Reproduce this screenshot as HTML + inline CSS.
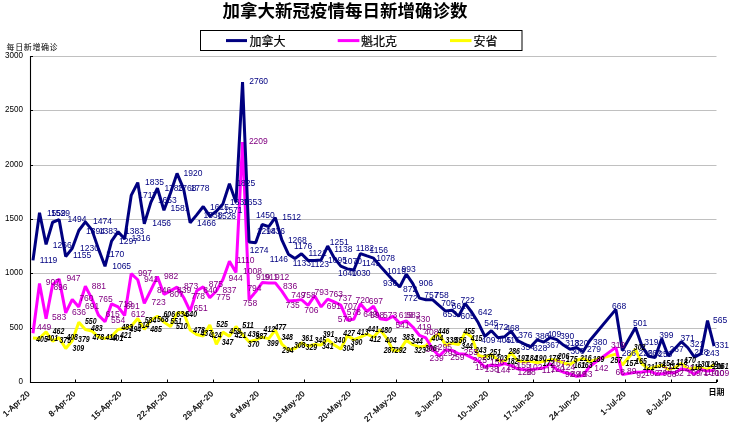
<!DOCTYPE html><html><head><meta charset="utf-8"><style>html,body{margin:0;padding:0;background:#fff;width:729px;height:424px;overflow:hidden}svg{display:block}</style></head><body>
<svg width="729" height="424" viewBox="0 0 729 424">
<rect width="729" height="424" fill="#fff"/>
<text x="345" y="16.5" font-family="'Noto Sans CJK SC',sans-serif" font-weight="bold" font-size="17.5" text-anchor="middle" fill="#000">加拿大新冠疫情每日新增确诊数</text>
<rect x="200.5" y="30.5" width="321.5" height="20" fill="#fff" stroke="#000" stroke-width="1"/>
<line x1="226" y1="40.6" x2="247" y2="40.6" stroke="#000080" stroke-width="3"/>
<text x="249.5" y="46" font-family="'Liberation Sans','Noto Sans CJK SC',sans-serif" font-size="12" fill="#000" stroke="#000" stroke-width="0.2">加拿大</text>
<line x1="337.7" y1="40.6" x2="359.4" y2="40.6" stroke="#ff00ff" stroke-width="3"/>
<text x="361" y="46" font-family="'Liberation Sans','Noto Sans CJK SC',sans-serif" font-size="12" fill="#000" stroke="#000" stroke-width="0.2">魁北克</text>
<line x1="450" y1="40.6" x2="471.5" y2="40.6" stroke="#ffff00" stroke-width="3"/>
<text x="473.5" y="46" font-family="'Liberation Sans','Noto Sans CJK SC',sans-serif" font-size="12" fill="#000" stroke="#000" stroke-width="0.2">安省</text>
<text x="6.6" y="49.6" font-family="'Liberation Sans','Noto Sans CJK SC',sans-serif" font-size="8" letter-spacing="0.6" fill="#000">每日新增确诊</text>
<line x1="31" y1="56.5" x2="716.5" y2="56.5" stroke="#c0c0c0" stroke-width="1"/>
<line x1="31" y1="110.5" x2="716.5" y2="110.5" stroke="#c0c0c0" stroke-width="1"/>
<line x1="31" y1="165.5" x2="716.5" y2="165.5" stroke="#c0c0c0" stroke-width="1"/>
<line x1="31" y1="219.5" x2="716.5" y2="219.5" stroke="#c0c0c0" stroke-width="1"/>
<line x1="31" y1="273.5" x2="716.5" y2="273.5" stroke="#c0c0c0" stroke-width="1"/>
<line x1="31" y1="328.5" x2="716.5" y2="328.5" stroke="#c0c0c0" stroke-width="1"/>
<text x="4.9" y="57.8" font-family="'Liberation Sans',sans-serif" font-size="9" textLength="18.0" lengthAdjust="spacingAndGlyphs" fill="#000">3000</text>
<text x="4.9" y="112.1" font-family="'Liberation Sans',sans-serif" font-size="9" textLength="18.0" lengthAdjust="spacingAndGlyphs" fill="#000">2500</text>
<text x="4.9" y="166.5" font-family="'Liberation Sans',sans-serif" font-size="9" textLength="18.0" lengthAdjust="spacingAndGlyphs" fill="#000">2000</text>
<text x="4.9" y="220.8" font-family="'Liberation Sans',sans-serif" font-size="9" textLength="18.0" lengthAdjust="spacingAndGlyphs" fill="#000">1500</text>
<text x="4.9" y="275.1" font-family="'Liberation Sans',sans-serif" font-size="9" textLength="18.0" lengthAdjust="spacingAndGlyphs" fill="#000">1000</text>
<text x="9.4" y="329.5" font-family="'Liberation Sans',sans-serif" font-size="9" textLength="13.5" lengthAdjust="spacingAndGlyphs" fill="#000">500</text>
<text x="18.4" y="383.8" font-family="'Liberation Sans',sans-serif" font-size="9" textLength="4.5" lengthAdjust="spacingAndGlyphs" fill="#000">0</text>
<line x1="30.5" y1="56" x2="30.5" y2="383" stroke="#000" stroke-width="1.1"/>
<line x1="30" y1="382.5" x2="717" y2="382.5" stroke="#000" stroke-width="1.1"/>
<line x1="30" y1="56.5" x2="33" y2="56.5" stroke="#000" stroke-width="1"/>
<line x1="30" y1="110.5" x2="33" y2="110.5" stroke="#000" stroke-width="1"/>
<line x1="30" y1="165.5" x2="33" y2="165.5" stroke="#000" stroke-width="1"/>
<line x1="30" y1="219.5" x2="33" y2="219.5" stroke="#000" stroke-width="1"/>
<line x1="30" y1="273.5" x2="33" y2="273.5" stroke="#000" stroke-width="1"/>
<line x1="30" y1="328.5" x2="33" y2="328.5" stroke="#000" stroke-width="1"/>
<text transform="translate(30.5,394.2) rotate(-43)" font-family="'Liberation Sans',sans-serif" font-size="8" letter-spacing="0.3" text-anchor="end" fill="#000" stroke="#000" stroke-width="0.25">1-Apr-20</text>
<line x1="75.5" y1="379.5" x2="75.5" y2="382" stroke="#000" stroke-width="1"/>
<text transform="translate(76.3,394.2) rotate(-43)" font-family="'Liberation Sans',sans-serif" font-size="8" letter-spacing="0.3" text-anchor="end" fill="#000" stroke="#000" stroke-width="0.25">8-Apr-20</text>
<line x1="121.5" y1="379.5" x2="121.5" y2="382" stroke="#000" stroke-width="1"/>
<text transform="translate(122.2,394.2) rotate(-43)" font-family="'Liberation Sans',sans-serif" font-size="8" letter-spacing="0.3" text-anchor="end" fill="#000" stroke="#000" stroke-width="0.25">15-Apr-20</text>
<line x1="167.5" y1="379.5" x2="167.5" y2="382" stroke="#000" stroke-width="1"/>
<text transform="translate(168.0,394.2) rotate(-43)" font-family="'Liberation Sans',sans-serif" font-size="8" letter-spacing="0.3" text-anchor="end" fill="#000" stroke="#000" stroke-width="0.25">22-Apr-20</text>
<line x1="213.5" y1="379.5" x2="213.5" y2="382" stroke="#000" stroke-width="1"/>
<text transform="translate(213.9,394.2) rotate(-43)" font-family="'Liberation Sans',sans-serif" font-size="8" letter-spacing="0.3" text-anchor="end" fill="#000" stroke="#000" stroke-width="0.25">29-Apr-20</text>
<line x1="258.5" y1="379.5" x2="258.5" y2="382" stroke="#000" stroke-width="1"/>
<text transform="translate(259.7,394.2) rotate(-43)" font-family="'Liberation Sans',sans-serif" font-size="8" letter-spacing="0.3" text-anchor="end" fill="#000" stroke="#000" stroke-width="0.25">6-May-20</text>
<line x1="304.5" y1="379.5" x2="304.5" y2="382" stroke="#000" stroke-width="1"/>
<text transform="translate(305.6,394.2) rotate(-43)" font-family="'Liberation Sans',sans-serif" font-size="8" letter-spacing="0.3" text-anchor="end" fill="#000" stroke="#000" stroke-width="0.25">13-May-20</text>
<line x1="350.5" y1="379.5" x2="350.5" y2="382" stroke="#000" stroke-width="1"/>
<text transform="translate(351.4,394.2) rotate(-43)" font-family="'Liberation Sans',sans-serif" font-size="8" letter-spacing="0.3" text-anchor="end" fill="#000" stroke="#000" stroke-width="0.25">20-May-20</text>
<line x1="396.5" y1="379.5" x2="396.5" y2="382" stroke="#000" stroke-width="1"/>
<text transform="translate(397.2,394.2) rotate(-43)" font-family="'Liberation Sans',sans-serif" font-size="8" letter-spacing="0.3" text-anchor="end" fill="#000" stroke="#000" stroke-width="0.25">27-May-20</text>
<line x1="442.5" y1="379.5" x2="442.5" y2="382" stroke="#000" stroke-width="1"/>
<text transform="translate(443.1,394.2) rotate(-43)" font-family="'Liberation Sans',sans-serif" font-size="8" letter-spacing="0.3" text-anchor="end" fill="#000" stroke="#000" stroke-width="0.25">3-Jun-20</text>
<line x1="488.5" y1="379.5" x2="488.5" y2="382" stroke="#000" stroke-width="1"/>
<text transform="translate(488.9,394.2) rotate(-43)" font-family="'Liberation Sans',sans-serif" font-size="8" letter-spacing="0.3" text-anchor="end" fill="#000" stroke="#000" stroke-width="0.25">10-Jun-20</text>
<line x1="533.5" y1="379.5" x2="533.5" y2="382" stroke="#000" stroke-width="1"/>
<text transform="translate(534.8,394.2) rotate(-43)" font-family="'Liberation Sans',sans-serif" font-size="8" letter-spacing="0.3" text-anchor="end" fill="#000" stroke="#000" stroke-width="0.25">17-Jun-20</text>
<line x1="579.5" y1="379.5" x2="579.5" y2="382" stroke="#000" stroke-width="1"/>
<text transform="translate(580.6,394.2) rotate(-43)" font-family="'Liberation Sans',sans-serif" font-size="8" letter-spacing="0.3" text-anchor="end" fill="#000" stroke="#000" stroke-width="0.25">24-Jun-20</text>
<line x1="625.5" y1="379.5" x2="625.5" y2="382" stroke="#000" stroke-width="1"/>
<text transform="translate(626.5,394.2) rotate(-43)" font-family="'Liberation Sans',sans-serif" font-size="8" letter-spacing="0.3" text-anchor="end" fill="#000" stroke="#000" stroke-width="0.25">1-Jul-20</text>
<line x1="671.5" y1="379.5" x2="671.5" y2="382" stroke="#000" stroke-width="1"/>
<text transform="translate(672.3,394.2) rotate(-43)" font-family="'Liberation Sans',sans-serif" font-size="8" letter-spacing="0.3" text-anchor="end" fill="#000" stroke="#000" stroke-width="0.25">8-Jul-20</text>
<line x1="717.5" y1="379.5" x2="717.5" y2="382" stroke="#000" stroke-width="1"/>
<line x1="716.5" y1="379.5" x2="716.5" y2="382" stroke="#000" stroke-width="1"/>
<text x="708.5" y="394.5" font-family="'Liberation Sans','Noto Sans CJK SC',sans-serif" font-size="8" font-weight="bold" fill="#000">日期</text>
<polyline points="32.97,337.99 39.52,338.42 46.07,331.80 52.62,341.25 59.17,337.66 65.72,348.42 72.27,340.82 78.82,322.23 85.37,329.51 91.92,330.93 98.46,337.01 105.01,338.42 111.56,336.25 118.11,329.51 124.66,328.32 131.21,326.15 137.76,318.54 144.31,329.30 150.86,320.28 157.41,316.15 163.95,322.12 170.50,326.58 177.05,313.11 183.60,312.45 190.15,330.06 196.70,334.51 203.25,335.93 209.80,324.95 216.35,344.29 222.90,332.12 229.44,336.25 235.99,326.47 242.54,334.62 249.09,341.79 255.64,339.95 262.19,337.23 268.74,338.64 275.29,330.17 281.84,344.18 288.39,350.05 294.93,348.53 301.48,342.77 308.03,346.25 314.58,344.51 321.13,344.94 327.68,339.51 334.23,345.05 340.78,348.97 347.33,335.60 353.88,339.62 360.42,337.12 366.97,334.08 373.52,337.23 380.07,329.84 386.62,338.10 393.17,350.81 399.72,350.27 406.27,340.38 412.82,344.62 419.37,346.90 425.91,345.92 432.46,338.10 439.01,333.53 445.56,345.27 452.11,343.31 458.66,344.62 465.21,332.56 471.76,336.90 478.31,355.59 484.86,357.01 491.40,354.72 497.95,359.94 504.50,362.22 511.05,352.66 517.60,360.59 524.15,362.01 530.70,361.35 537.25,362.66 543.80,361.35 550.35,359.61 556.89,360.27 563.44,362.98 569.99,364.50 576.54,360.27 583.09,358.53 589.64,361.46 615.84,354.07 622.38,364.94 635.48,349.18 642.03,364.07 648.58,368.85 655.13,367.00 661.68,365.27 668.23,369.18 674.78,367.87 681.33,363.53 687.87,369.18 694.42,367.87 700.97,367.98 707.52,369.39 714.07,364.50" fill="none" stroke="#ffff00" stroke-width="3" stroke-linejoin="bevel" stroke-linecap="butt"/>
<polyline points="32.97,333.21 39.52,283.44 46.07,318.65 52.62,284.63 59.17,279.09 65.72,312.89 72.27,299.41 78.82,306.91 85.37,286.26 91.92,298.87 98.46,315.17 105.01,321.80 111.56,303.87 118.11,306.91 124.66,315.50 131.21,273.66 137.76,279.74 144.31,303.43 150.86,290.07 157.41,276.59 163.95,294.31 170.50,290.83 177.05,287.13 183.60,297.46 190.15,311.26 196.70,290.72 203.25,286.92 209.80,297.78 216.35,291.05 222.90,279.42 229.44,261.38 235.99,272.46 242.54,141.96 249.09,299.63 255.64,291.81 262.19,282.57 268.74,283.00 275.29,282.90 281.84,291.15 288.39,301.04 294.93,300.61 301.48,299.63 308.03,305.28 314.58,295.83 321.13,306.91 327.68,299.09 334.23,301.91 340.78,305.17 347.33,320.06 353.88,319.19 360.42,303.76 366.97,311.48 373.52,306.26 380.07,318.86 386.62,319.73 393.17,316.15 399.72,323.21 406.27,320.93 412.82,327.01 419.37,335.27 425.91,337.99 432.46,348.75 439.01,356.03 445.56,349.94 452.11,350.38 458.66,353.86 465.21,354.29 471.76,357.55 478.31,360.92 484.86,367.00 491.40,365.05 497.95,365.70 504.50,363.53 511.05,365.59 517.60,368.85 524.15,369.72 530.70,369.72 537.25,368.85 543.80,367.98 550.35,363.85 556.89,369.72 563.44,372.22 569.99,373.85 576.54,376.35 583.09,375.48 589.64,366.57 615.84,347.34 622.38,374.61 635.48,372.33 642.03,372.00 648.58,370.92 655.13,373.42 661.68,373.96 668.23,372.44 674.78,373.09 681.33,368.85 687.87,370.16 694.42,374.28 700.97,369.61 707.52,371.13 714.07,370.16" fill="none" stroke="#ff00ff" stroke-width="3" stroke-linejoin="bevel" stroke-linecap="butt"/>
<polyline points="32.97,260.40 39.52,212.81 46.07,244.43 52.62,222.26 59.17,219.65 65.72,256.49 72.27,248.34 78.82,230.52 85.37,221.83 91.92,229.87 98.46,248.88 105.01,266.27 111.56,241.06 118.11,231.71 124.66,238.99 131.21,195.42 137.76,182.60 144.31,223.78 150.86,202.37 157.41,188.25 163.95,210.20 170.50,193.03 177.05,173.36 183.60,188.79 190.15,222.69 196.70,214.87 203.25,206.50 209.80,216.17 216.35,211.28 222.90,203.90 229.44,183.68 235.99,202.37 242.54,82.08 249.09,242.04 255.64,242.69 262.19,224.54 268.74,226.61 275.29,217.70 281.84,239.97 288.39,254.21 294.93,258.55 301.48,253.77 308.03,260.40 314.58,260.40 321.13,259.97 327.68,246.06 334.23,257.90 340.78,266.16 347.33,268.88 353.88,270.07 360.42,253.56 366.97,255.95 373.52,258.12 380.07,266.05 386.62,273.33 393.17,280.40 399.72,287.03 406.27,274.09 412.82,283.55 419.37,298.11 425.91,299.74 432.46,299.63 439.01,305.39 445.56,311.04 452.11,310.17 458.66,316.26 465.21,303.54 471.76,312.24 478.31,322.78 484.86,336.36 491.40,330.71 497.95,337.66 504.50,336.79 511.05,331.14 517.60,340.60 524.15,343.86 530.70,346.79 537.25,339.84 543.80,342.12 550.35,337.56 556.89,339.62 563.44,345.05 569.99,349.18 576.54,347.44 583.09,351.68 589.64,340.71 615.84,309.41 622.38,350.49 635.48,327.56 642.03,346.14 648.58,356.35 655.13,357.44 661.68,338.64 668.23,356.03 674.78,348.86 681.33,341.68 687.87,347.77 694.42,357.22 700.97,353.64 707.52,320.60 714.07,346.03" fill="none" stroke="#000080" stroke-width="3" stroke-linejoin="bevel" stroke-linecap="butt"/>
<g font-family="'Liberation Sans',sans-serif" font-size="8.5">
<text x="36.2" y="341.7" fill="#000000" font-style="italic" font-weight="bold" textLength="11.6" lengthAdjust="spacingAndGlyphs">405</text>
<text x="46.5" y="341.0" fill="#000000" font-style="italic" font-weight="bold" textLength="11.6" lengthAdjust="spacingAndGlyphs">401</text>
<text x="52.7" y="333.5" fill="#000000" font-style="italic" font-weight="bold" textLength="11.6" lengthAdjust="spacingAndGlyphs">462</text>
<text x="59.5" y="343.1" fill="#000000" font-style="italic" font-weight="bold" textLength="11.6" lengthAdjust="spacingAndGlyphs">375</text>
<text x="66.4" y="339.6" fill="#000000" font-style="italic" font-weight="bold" textLength="11.6" lengthAdjust="spacingAndGlyphs">408</text>
<text x="72.6" y="350.6" fill="#000000" font-style="italic" font-weight="bold" textLength="11.6" lengthAdjust="spacingAndGlyphs">309</text>
<text x="78.1" y="342.4" fill="#000000" font-style="italic" font-weight="bold" textLength="11.6" lengthAdjust="spacingAndGlyphs">379</text>
<text x="85.0" y="323.9" fill="#000000" font-style="italic" font-weight="bold" textLength="11.6" lengthAdjust="spacingAndGlyphs">550</text>
<text x="91.1" y="331.4" fill="#000000" font-style="italic" font-weight="bold" textLength="11.6" lengthAdjust="spacingAndGlyphs">483</text>
<text x="92.5" y="339.6" fill="#000000" font-style="italic" font-weight="bold" textLength="11.6" lengthAdjust="spacingAndGlyphs">478</text>
<text x="105.5" y="340.3" fill="#000000" font-style="italic" font-weight="bold" textLength="11.6" lengthAdjust="spacingAndGlyphs">414</text>
<text x="111.7" y="341.0" fill="#000000" font-style="italic" font-weight="bold" textLength="11.6" lengthAdjust="spacingAndGlyphs">401</text>
<text x="120.0" y="337.9" fill="#000000" font-style="italic" font-weight="bold" textLength="11.6" lengthAdjust="spacingAndGlyphs">421</text>
<text x="121.4" y="329.6" fill="#000000" font-style="italic" font-weight="bold" textLength="11.6" lengthAdjust="spacingAndGlyphs">483</text>
<text x="129.6" y="332.4" fill="#000000" font-style="italic" font-weight="bold" textLength="11.6" lengthAdjust="spacingAndGlyphs">494</text>
<text x="137.8" y="327.6" fill="#000000" font-style="italic" font-weight="bold" textLength="11.6" lengthAdjust="spacingAndGlyphs">514</text>
<text x="144.7" y="322.8" fill="#000000" font-style="italic" font-weight="bold" textLength="11.6" lengthAdjust="spacingAndGlyphs">584</text>
<text x="150.2" y="331.7" fill="#000000" font-style="italic" font-weight="bold" textLength="11.6" lengthAdjust="spacingAndGlyphs">485</text>
<text x="157.0" y="322.1" fill="#000000" font-style="italic" font-weight="bold" textLength="11.6" lengthAdjust="spacingAndGlyphs">568</text>
<text x="163.5" y="316.9" fill="#000000" font-style="italic" font-weight="bold" textLength="11.6" lengthAdjust="spacingAndGlyphs">606</text>
<text x="170.2" y="323.9" fill="#000000" font-style="italic" font-weight="bold" textLength="11.6" lengthAdjust="spacingAndGlyphs">551</text>
<text x="176.0" y="328.9" fill="#000000" font-style="italic" font-weight="bold" textLength="11.6" lengthAdjust="spacingAndGlyphs">510</text>
<text x="176.3" y="317.1" fill="#000000" font-style="italic" font-weight="bold" textLength="11.6" lengthAdjust="spacingAndGlyphs">634</text>
<text x="185.5" y="317.4" fill="#000000" font-style="italic" font-weight="bold" textLength="11.6" lengthAdjust="spacingAndGlyphs">640</text>
<text x="193.3" y="332.9" fill="#000000" font-style="italic" font-weight="bold" textLength="11.6" lengthAdjust="spacingAndGlyphs">478</text>
<text x="200.5" y="335.8" fill="#000000" font-style="italic" font-weight="bold" textLength="11.6" lengthAdjust="spacingAndGlyphs">437</text>
<text x="210.1" y="337.9" fill="#000000" font-style="italic" font-weight="bold" textLength="11.6" lengthAdjust="spacingAndGlyphs">424</text>
<text x="216.3" y="326.9" fill="#000000" font-style="italic" font-weight="bold" textLength="11.6" lengthAdjust="spacingAndGlyphs">525</text>
<text x="221.7" y="345.4" fill="#000000" font-style="italic" font-weight="bold" textLength="11.6" lengthAdjust="spacingAndGlyphs">347</text>
<text x="229.3" y="333.8" fill="#000000" font-style="italic" font-weight="bold" textLength="11.6" lengthAdjust="spacingAndGlyphs">459</text>
<text x="234.8" y="337.9" fill="#000000" font-style="italic" font-weight="bold" textLength="11.6" lengthAdjust="spacingAndGlyphs">421</text>
<text x="242.3" y="328.3" fill="#000000" font-style="italic" font-weight="bold" textLength="11.6" lengthAdjust="spacingAndGlyphs">511</text>
<text x="247.8" y="337.2" fill="#000000" font-style="italic" font-weight="bold" textLength="11.6" lengthAdjust="spacingAndGlyphs">436</text>
<text x="247.8" y="346.8" fill="#000000" font-style="italic" font-weight="bold" textLength="11.6" lengthAdjust="spacingAndGlyphs">370</text>
<text x="255.4" y="338.6" fill="#000000" font-style="italic" font-weight="bold" textLength="11.6" lengthAdjust="spacingAndGlyphs">387</text>
<text x="263.6" y="331.7" fill="#000000" font-style="italic" font-weight="bold" textLength="11.6" lengthAdjust="spacingAndGlyphs">412</text>
<text x="267.0" y="346.1" fill="#000000" font-style="italic" font-weight="bold" textLength="11.6" lengthAdjust="spacingAndGlyphs">399</text>
<text x="274.6" y="329.6" fill="#000000" font-style="italic" font-weight="bold" textLength="11.6" lengthAdjust="spacingAndGlyphs">477</text>
<text x="281.4" y="339.9" fill="#000000" font-style="italic" font-weight="bold" textLength="11.6" lengthAdjust="spacingAndGlyphs">348</text>
<text x="282.1" y="353.0" fill="#000000" font-style="italic" font-weight="bold" textLength="11.6" lengthAdjust="spacingAndGlyphs">294</text>
<text x="293.9" y="348.1" fill="#000000" font-style="italic" font-weight="bold" textLength="11.6" lengthAdjust="spacingAndGlyphs">308</text>
<text x="301.5" y="341.2" fill="#000000" font-style="italic" font-weight="bold" textLength="11.6" lengthAdjust="spacingAndGlyphs">361</text>
<text x="305.6" y="350.1" fill="#000000" font-style="italic" font-weight="bold" textLength="11.6" lengthAdjust="spacingAndGlyphs">329</text>
<text x="314.5" y="342.6" fill="#000000" font-style="italic" font-weight="bold" textLength="11.6" lengthAdjust="spacingAndGlyphs">345</text>
<text x="322.7" y="337.1" fill="#000000" font-style="italic" font-weight="bold" textLength="11.6" lengthAdjust="spacingAndGlyphs">391</text>
<text x="322.0" y="348.8" fill="#000000" font-style="italic" font-weight="bold" textLength="11.6" lengthAdjust="spacingAndGlyphs">341</text>
<text x="333.7" y="342.6" fill="#000000" font-style="italic" font-weight="bold" textLength="11.6" lengthAdjust="spacingAndGlyphs">340</text>
<text x="343.3" y="335.7" fill="#000000" font-style="italic" font-weight="bold" textLength="11.6" lengthAdjust="spacingAndGlyphs">427</text>
<text x="342.6" y="350.8" fill="#000000" font-style="italic" font-weight="bold" textLength="11.6" lengthAdjust="spacingAndGlyphs">304</text>
<text x="350.8" y="344.6" fill="#000000" font-style="italic" font-weight="bold" textLength="11.6" lengthAdjust="spacingAndGlyphs">390</text>
<text x="357.0" y="335.0" fill="#000000" font-style="italic" font-weight="bold" textLength="11.6" lengthAdjust="spacingAndGlyphs">413</text>
<text x="367.3" y="331.6" fill="#000000" font-style="italic" font-weight="bold" textLength="11.6" lengthAdjust="spacingAndGlyphs">441</text>
<text x="369.4" y="341.9" fill="#000000" font-style="italic" font-weight="bold" textLength="11.6" lengthAdjust="spacingAndGlyphs">412</text>
<text x="380.3" y="333.4" fill="#000000" font-style="italic" font-weight="bold" textLength="11.6" lengthAdjust="spacingAndGlyphs">480</text>
<text x="385.1" y="342.9" fill="#000000" font-style="italic" font-weight="bold" textLength="11.6" lengthAdjust="spacingAndGlyphs">404</text>
<text x="383.7" y="352.6" fill="#000000" font-style="italic" font-weight="bold" textLength="11.6" lengthAdjust="spacingAndGlyphs">287</text>
<text x="394.8" y="352.6" fill="#000000" font-style="italic" font-weight="bold" textLength="11.6" lengthAdjust="spacingAndGlyphs">292</text>
<text x="402.2" y="339.9" fill="#000000" font-style="italic" font-weight="bold" textLength="11.6" lengthAdjust="spacingAndGlyphs">383</text>
<text x="411.3" y="343.9" fill="#000000" font-style="italic" font-weight="bold" textLength="11.6" lengthAdjust="spacingAndGlyphs">344</text>
<text x="414.2" y="352.6" fill="#000000" font-style="italic" font-weight="bold" textLength="11.6" lengthAdjust="spacingAndGlyphs">323</text>
<text x="425.0" y="351.4" fill="#000000" font-style="italic" font-weight="bold" textLength="11.6" lengthAdjust="spacingAndGlyphs">306</text>
<text x="431.6" y="341.2" fill="#000000" font-style="italic" font-weight="bold" textLength="11.6" lengthAdjust="spacingAndGlyphs">404</text>
<text x="437.8" y="333.9" fill="#000000" font-style="italic" font-weight="bold" textLength="11.6" lengthAdjust="spacingAndGlyphs">446</text>
<text x="445.6" y="342.9" fill="#000000" font-style="italic" font-weight="bold" textLength="11.6" lengthAdjust="spacingAndGlyphs">338</text>
<text x="454.7" y="342.9" fill="#000000" font-style="italic" font-weight="bold" textLength="11.6" lengthAdjust="spacingAndGlyphs">356</text>
<text x="461.3" y="348.5" fill="#000000" font-style="italic" font-weight="bold" textLength="11.6" lengthAdjust="spacingAndGlyphs">344</text>
<text x="463.4" y="333.9" fill="#000000" font-style="italic" font-weight="bold" textLength="11.6" lengthAdjust="spacingAndGlyphs">455</text>
<text x="470.8" y="340.7" fill="#000000" font-style="italic" font-weight="bold" textLength="11.6" lengthAdjust="spacingAndGlyphs">415</text>
<text x="475.0" y="352.9" fill="#000000" font-style="italic" font-weight="bold" textLength="11.6" lengthAdjust="spacingAndGlyphs">243</text>
<text x="482.7" y="359.9" fill="#000000" font-style="italic" font-weight="bold" textLength="11.6" lengthAdjust="spacingAndGlyphs">230</text>
<text x="489.5" y="354.7" fill="#000000" font-style="italic" font-weight="bold" textLength="11.6" lengthAdjust="spacingAndGlyphs">251</text>
<text x="495.8" y="360.9" fill="#000000" font-style="italic" font-weight="bold" textLength="11.6" lengthAdjust="spacingAndGlyphs">203</text>
<text x="506.9" y="363.9" fill="#000000" font-style="italic" font-weight="bold" textLength="11.6" lengthAdjust="spacingAndGlyphs">182</text>
<text x="508.4" y="353.9" fill="#000000" font-style="italic" font-weight="bold" textLength="11.6" lengthAdjust="spacingAndGlyphs">286</text>
<text x="517.1" y="361.1" fill="#000000" font-style="italic" font-weight="bold" textLength="11.6" lengthAdjust="spacingAndGlyphs">197</text>
<text x="525.8" y="360.9" fill="#000000" font-style="italic" font-weight="bold" textLength="11.6" lengthAdjust="spacingAndGlyphs">184</text>
<text x="535.0" y="360.9" fill="#000000" font-style="italic" font-weight="bold" textLength="11.6" lengthAdjust="spacingAndGlyphs">190</text>
<text x="542.7" y="365.9" fill="#000000" font-style="italic" font-weight="bold" textLength="11.6" lengthAdjust="spacingAndGlyphs">172</text>
<text x="548.5" y="360.9" fill="#000000" font-style="italic" font-weight="bold" textLength="11.6" lengthAdjust="spacingAndGlyphs">178</text>
<text x="557.7" y="358.9" fill="#000000" font-style="italic" font-weight="bold" textLength="11.6" lengthAdjust="spacingAndGlyphs">206</text>
<text x="566.0" y="362.1" fill="#000000" font-style="italic" font-weight="bold" textLength="11.6" lengthAdjust="spacingAndGlyphs">175</text>
<text x="573.7" y="368.1" fill="#000000" font-style="italic" font-weight="bold" textLength="11.6" lengthAdjust="spacingAndGlyphs">161</text>
<text x="580.0" y="360.9" fill="#000000" font-style="italic" font-weight="bold" textLength="11.6" lengthAdjust="spacingAndGlyphs">216</text>
<text x="581.0" y="368.1" fill="#000000" font-style="italic" font-weight="bold" textLength="11.6" lengthAdjust="spacingAndGlyphs">163</text>
<text x="592.7" y="362.1" fill="#000000" font-style="italic" font-weight="bold" textLength="11.6" lengthAdjust="spacingAndGlyphs">189</text>
<text x="610.6" y="362.7" fill="#000000" font-style="italic" font-weight="bold" textLength="11.6" lengthAdjust="spacingAndGlyphs">257</text>
<text x="625.6" y="366.0" fill="#000000" font-style="italic" font-weight="bold" textLength="11.6" lengthAdjust="spacingAndGlyphs">157</text>
<text x="633.8" y="349.5" fill="#000000" font-style="italic" font-weight="bold" textLength="11.6" lengthAdjust="spacingAndGlyphs">302</text>
<text x="635.3" y="364.3" fill="#000000" font-style="italic" font-weight="bold" textLength="11.6" lengthAdjust="spacingAndGlyphs">165</text>
<text x="643.0" y="369.9" fill="#000000" font-style="italic" font-weight="bold" textLength="11.6" lengthAdjust="spacingAndGlyphs">121</text>
<text x="654.0" y="367.9" fill="#000000" font-style="italic" font-weight="bold" textLength="11.6" lengthAdjust="spacingAndGlyphs">138</text>
<text x="662.3" y="366.2" fill="#000000" font-style="italic" font-weight="bold" textLength="11.6" lengthAdjust="spacingAndGlyphs">154</text>
<text x="668.0" y="368.9" fill="#000000" font-style="italic" font-weight="bold" textLength="11.6" lengthAdjust="spacingAndGlyphs">112</text>
<text x="676.1" y="364.8" fill="#000000" font-style="italic" font-weight="bold" textLength="11.6" lengthAdjust="spacingAndGlyphs">118</text>
<text x="684.2" y="363.0" fill="#000000" font-style="italic" font-weight="bold" textLength="11.6" lengthAdjust="spacingAndGlyphs">170</text>
<text x="690.5" y="369.9" fill="#000000" font-style="italic" font-weight="bold" textLength="11.6" lengthAdjust="spacingAndGlyphs">118</text>
<text x="696.8" y="366.8" fill="#000000" font-style="italic" font-weight="bold" textLength="11.6" lengthAdjust="spacingAndGlyphs">130</text>
<text x="706.6" y="366.8" fill="#000000" font-style="italic" font-weight="bold" textLength="11.6" lengthAdjust="spacingAndGlyphs">129</text>
<text x="712.0" y="368.9" fill="#000000" font-style="italic" font-weight="bold" textLength="11.6" lengthAdjust="spacingAndGlyphs">116</text>
<text x="717.0" y="368.9" fill="#000000" font-style="italic" font-weight="bold" textLength="11.6" lengthAdjust="spacingAndGlyphs">161</text>
<text x="37.1" y="329.9" fill="#800080">449</text>
<text x="45.8" y="285.0" fill="#800080">907</text>
<text x="52.0" y="319.8" fill="#800080">583</text>
<text x="53.4" y="289.9" fill="#800080">896</text>
<text x="66.4" y="280.9" fill="#800080">947</text>
<text x="71.9" y="315.2" fill="#800080">636</text>
<text x="79.4" y="300.8" fill="#800080">760</text>
<text x="85.0" y="308.6" fill="#800080">691</text>
<text x="91.8" y="289.2" fill="#800080">881</text>
<text x="98.6" y="301.5" fill="#800080">765</text>
<text x="105.5" y="316.6" fill="#800080">615</text>
<text x="111.0" y="322.8" fill="#800080">554</text>
<text x="118.5" y="307.0" fill="#800080">719</text>
<text x="125.6" y="308.9" fill="#800080">691</text>
<text x="131.1" y="317.1" fill="#800080">612</text>
<text x="137.9" y="275.9" fill="#800080">997</text>
<text x="144.1" y="282.1" fill="#800080">941</text>
<text x="151.6" y="304.7" fill="#800080">723</text>
<text x="157.1" y="293.1" fill="#800080">846</text>
<text x="164.0" y="278.7" fill="#800080">982</text>
<text x="169.5" y="296.5" fill="#800080">807</text>
<text x="177.0" y="293.3" fill="#800080">839</text>
<text x="184.0" y="289.0" fill="#800080">873</text>
<text x="190.9" y="298.6" fill="#800080">778</text>
<text x="193.5" y="311.3" fill="#800080">651</text>
<text x="203.2" y="292.9" fill="#800080">840</text>
<text x="208.7" y="287.4" fill="#800080">875</text>
<text x="216.3" y="299.7" fill="#800080">775</text>
<text x="222.4" y="292.9" fill="#800080">837</text>
<text x="228.6" y="280.5" fill="#800080">944</text>
<text x="236.8" y="262.7" fill="#800080">1110</text>
<text x="243.0" y="273.7" fill="#800080">1008</text>
<text x="248.9" y="144.1" fill="#800080">2209</text>
<text x="243.0" y="305.9" fill="#800080">758</text>
<text x="247.4" y="290.7" fill="#800080">794</text>
<text x="256.0" y="279.9" fill="#800080">919</text>
<text x="264.5" y="279.9" fill="#800080">911</text>
<text x="275.0" y="279.9" fill="#800080">912</text>
<text x="283.0" y="289.0" fill="#800080">836</text>
<text x="285.6" y="307.7" fill="#800080">735</text>
<text x="291.2" y="298.3" fill="#800080">749</text>
<text x="301.5" y="297.6" fill="#800080">758</text>
<text x="304.2" y="312.7" fill="#800080">706</text>
<text x="314.5" y="294.9" fill="#800080">793</text>
<text x="326.8" y="309.3" fill="#800080">691</text>
<text x="328.9" y="296.9" fill="#800080">763</text>
<text x="337.8" y="301.0" fill="#800080">737</text>
<text x="343.3" y="309.3" fill="#800080">707</text>
<text x="337.8" y="321.6" fill="#800080">570</text>
<text x="346.7" y="315.4" fill="#800080">578</text>
<text x="355.6" y="303.1" fill="#800080">720</text>
<text x="363.2" y="316.8" fill="#800080">649</text>
<text x="368.7" y="303.8" fill="#800080">697</text>
<text x="370.0" y="318.3" fill="#800080">598</text>
<text x="383.0" y="317.6" fill="#800080">573</text>
<text x="398.8" y="317.6" fill="#800080">618</text>
<text x="395.4" y="327.9" fill="#800080">541</text>
<text x="406.4" y="317.6" fill="#800080">583</text>
<text x="416.0" y="322.4" fill="#800080">530</text>
<text x="417.3" y="329.9" fill="#800080">419</text>
<text x="424.2" y="334.7" fill="#800080">408</text>
<text x="425.5" y="351.7" fill="#800080">306</text>
<text x="429.6" y="360.6" fill="#800080">239</text>
<text x="437.8" y="349.6" fill="#800080">295</text>
<text x="443.0" y="356.2" fill="#800080">291</text>
<text x="450.2" y="359.9" fill="#800080">259</text>
<text x="463.8" y="354.6" fill="#800080">255</text>
<text x="472.8" y="363.4" fill="#800080">225</text>
<text x="474.9" y="370.2" fill="#800080">194</text>
<text x="484.5" y="371.6" fill="#800080">138</text>
<text x="490.0" y="365.4" fill="#800080">156</text>
<text x="496.1" y="373.0" fill="#800080">144</text>
<text x="506.4" y="369.9" fill="#800080">191</text>
<text x="516.6" y="367.9" fill="#800080">155</text>
<text x="517.6" y="375.3" fill="#800080">128</text>
<text x="528.2" y="369.9" fill="#800080">102</text>
<text x="526.3" y="375.3" fill="#800080">98</text>
<text x="541.8" y="372.7" fill="#800080">117</text>
<text x="550.5" y="371.9" fill="#800080">120</text>
<text x="551.4" y="366.2" fill="#800080">167</text>
<text x="561.1" y="370.2" fill="#800080">124</text>
<text x="565.0" y="377.4" fill="#800080">92</text>
<text x="571.0" y="377.4" fill="#800080">89</text>
<text x="577.0" y="377.4" fill="#800080">49</text>
<text x="583.0" y="377.4" fill="#800080">53</text>
<text x="594.2" y="370.8" fill="#800080">142</text>
<text x="611.1" y="347.6" fill="#800080">319</text>
<text x="615.5" y="375.1" fill="#800080">68</text>
<text x="627.0" y="374.3" fill="#800080">89</text>
<text x="636.3" y="377.9" fill="#800080">92</text>
<text x="645.0" y="375.9" fill="#800080">102</text>
<text x="657.7" y="376.3" fill="#800080">79</text>
<text x="663.0" y="372.9" fill="#800080">74</text>
<text x="667.0" y="376.9" fill="#800080">88</text>
<text x="674.4" y="376.3" fill="#800080">82</text>
<text x="680.0" y="370.9" fill="#800080">121</text>
<text x="686.5" y="376.3" fill="#800080">109</text>
<text x="699.0" y="375.9" fill="#800080">71</text>
<text x="703.0" y="374.9" fill="#800080">114</text>
<text x="710.0" y="376.3" fill="#800080">100</text>
<text x="715.0" y="376.3" fill="#800080">109</text>
<text x="39.7" y="262.9" fill="#000080">1119</text>
<text x="46.9" y="216.4" fill="#000080">1559</text>
<text x="52.8" y="247.5" fill="#000080">1266</text>
<text x="51.0" y="216.4" fill="#000080">1529</text>
<text x="67.5" y="222.4" fill="#000080">1494</text>
<text x="73.0" y="258.3" fill="#000080">1155</text>
<text x="80.0" y="250.7" fill="#000080">1230</text>
<text x="86.0" y="233.5" fill="#000080">1394</text>
<text x="93.0" y="224.1" fill="#000080">1474</text>
<text x="98.9" y="233.5" fill="#000080">1383</text>
<text x="106.0" y="257.1" fill="#000080">1170</text>
<text x="112.2" y="269.4" fill="#000080">1065</text>
<text x="119.0" y="244.4" fill="#000080">1297</text>
<text x="125.1" y="234.1" fill="#000080">1383</text>
<text x="131.5" y="241.4" fill="#000080">1316</text>
<text x="138.2" y="198.3" fill="#000080">1717</text>
<text x="145.0" y="185.1" fill="#000080">1835</text>
<text x="152.2" y="225.9" fill="#000080">1456</text>
<text x="157.9" y="202.9" fill="#000080">1653</text>
<text x="164.4" y="191.4" fill="#000080">1783</text>
<text x="170.5" y="211.3" fill="#000080">1581</text>
<text x="177.5" y="191.4" fill="#000080">1768</text>
<text x="183.6" y="175.9" fill="#000080">1920</text>
<text x="190.6" y="191.4" fill="#000080">1778</text>
<text x="197.1" y="225.6" fill="#000080">1466</text>
<text x="203.5" y="217.9" fill="#000080">1538</text>
<text x="210.1" y="209.5" fill="#000080">1615</text>
<text x="217.2" y="219.1" fill="#000080">1526</text>
<text x="223.7" y="213.2" fill="#000080">1571</text>
<text x="230.0" y="204.9" fill="#000080">1639</text>
<text x="236.4" y="185.9" fill="#000080">1825</text>
<text x="243.0" y="204.9" fill="#000080">1653</text>
<text x="249.2" y="84.4" fill="#000080">2760</text>
<text x="249.7" y="252.7" fill="#000080">1274</text>
<text x="256.8" y="233.6" fill="#000080">1298</text>
<text x="255.9" y="217.9" fill="#000080">1450</text>
<text x="266.0" y="233.6" fill="#000080">1436</text>
<text x="282.2" y="219.7" fill="#000080">1512</text>
<text x="287.9" y="242.7" fill="#000080">1268</text>
<text x="293.9" y="248.8" fill="#000080">1176</text>
<text x="292.7" y="266.3" fill="#000080">1133</text>
<text x="308.5" y="256.0" fill="#000080">1121</text>
<text x="310.6" y="267.0" fill="#000080">1123</text>
<text x="328.0" y="262.5" fill="#000080">1095</text>
<text x="329.8" y="245.0" fill="#000080">1251</text>
<text x="334.2" y="251.7" fill="#000080">1138</text>
<text x="343.0" y="264.3" fill="#000080">1070</text>
<text x="338.0" y="275.7" fill="#000080">1040</text>
<text x="351.7" y="275.9" fill="#000080">1030</text>
<text x="355.8" y="251.2" fill="#000080">1182</text>
<text x="362.0" y="266.3" fill="#000080">1145</text>
<text x="369.6" y="253.3" fill="#000080">1156</text>
<text x="376.2" y="261.1" fill="#000080">1078</text>
<text x="387.1" y="273.5" fill="#000080">1019</text>
<text x="383.0" y="285.8" fill="#000080">936</text>
<text x="403.0" y="292.0" fill="#000080">872</text>
<text x="401.5" y="272.1" fill="#000080">993</text>
<text x="418.7" y="285.8" fill="#000080">906</text>
<text x="403.6" y="300.9" fill="#000080">772</text>
<text x="424.2" y="298.2" fill="#000080">757</text>
<text x="434.5" y="298.2" fill="#000080">758</text>
<text x="441.3" y="305.7" fill="#000080">705</text>
<text x="442.7" y="316.7" fill="#000080">653</text>
<text x="451.7" y="309.2" fill="#000080">661</text>
<text x="460.6" y="319.4" fill="#000080">605</text>
<text x="460.6" y="303.0" fill="#000080">722</text>
<text x="478.0" y="314.5" fill="#000080">642</text>
<text x="484.2" y="325.5" fill="#000080">545</text>
<text x="481.2" y="342.8" fill="#000080">409</text>
<text x="494.0" y="330.3" fill="#000080">472</text>
<text x="497.0" y="342.9" fill="#000080">405</text>
<text x="505.5" y="342.7" fill="#000080">416</text>
<text x="505.4" y="330.9" fill="#000080">468</text>
<text x="518.3" y="338.2" fill="#000080">376</text>
<text x="520.7" y="349.5" fill="#000080">354</text>
<text x="533.1" y="350.5" fill="#000080">328</text>
<text x="535.2" y="339.0" fill="#000080">386</text>
<text x="545.5" y="347.9" fill="#000080">367</text>
<text x="547.1" y="336.9" fill="#000080">409</text>
<text x="560.0" y="338.9" fill="#000080">390</text>
<text x="565.2" y="345.9" fill="#000080">318</text>
<text x="570.4" y="354.1" fill="#000080">306</text>
<text x="574.2" y="345.9" fill="#000080">320</text>
<text x="586.9" y="352.3" fill="#000080">279</text>
<text x="593.0" y="344.8" fill="#000080">380</text>
<text x="612.0" y="308.7" fill="#000080">668</text>
<text x="621.8" y="355.8" fill="#000080">286</text>
<text x="633.1" y="326.2" fill="#000080">501</text>
<text x="644.2" y="345.2" fill="#000080">319</text>
<text x="638.5" y="356.4" fill="#000080">226</text>
<text x="647.5" y="356.4" fill="#000080">262</text>
<text x="659.3" y="338.2" fill="#000080">399</text>
<text x="658.3" y="356.9" fill="#000080">259</text>
<text x="669.6" y="351.9" fill="#000080">267</text>
<text x="680.6" y="341.2" fill="#000080">371</text>
<text x="690.0" y="347.2" fill="#000080">321</text>
<text x="694.2" y="354.7" fill="#000080">228</text>
<text x="705.4" y="355.5" fill="#000080">243</text>
<text x="713.0" y="323.0" fill="#000080">565</text>
<text x="714.8" y="347.9" fill="#000080">331</text>
<text x="269.8" y="262.2" fill="#000080">1146</text>
</g>
</svg></body></html>
